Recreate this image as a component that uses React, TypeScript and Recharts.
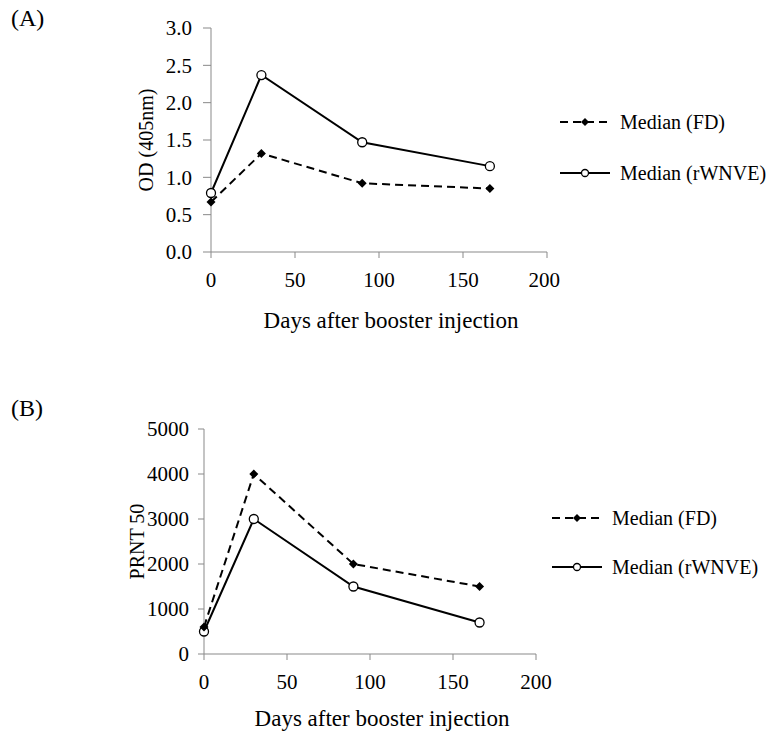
import { Label, Line, LineChart, XAxis, YAxis } from 'recharts'

// days after booster and the medians
const days = [0, 30, 90, 166]
const odFD = [0.67, 1.32, 0.92, 0.85]
const odRW = [0.79, 2.37, 1.47, 1.15]
const prntFD = [600, 4000, 2000, 1500]
const prntRW = [500, 3000, 1500, 700]

const dayTicks = [0, 50, 100, 150, 200]
const odTicks = [0, 0.5, 1, 1.5, 2, 2.5, 3]
const prntTicks = [0, 1000, 2000, 3000, 4000, 5000]

const seriesNames = ['Median (FD)', 'Median (rWNVE)']

const font = '"Liberation Serif", "Times New Roman", serif'
const gray = '#898989'

const odData = days.map((d, i) => ({ day: d, fd: odFD[i], rw: odRW[i] }))
const prntData = days.map((d, i) => ({ day: d, fd: prntFD[i], rw: prntRW[i] }))

function Diamond(props: any) {
  const { cx, cy, index } = props
  if (cx == null || cy == null) return <g key={index} />
  const s = 4.5
  return (
    <path
      key={index}
      d={`M${cx},${cy - s}L${cx + s},${cy}L${cx},${cy + s}L${cx - s},${cy}Z`}
      fill="#000"
    />
  )
}

const circleDot = { r: 4.5, fill: '#fff', stroke: '#000', strokeWidth: 1.3 }

function LegendBox({ left, top, gap }: { left: number; top: number; gap: number }) {
  return (
    <svg
      width={220}
      height={90}
      style={{ position: 'absolute', left, top, overflow: 'visible' }}
    >
      <line x1={0} x2={50} y1={10} y2={10} stroke="#000" strokeWidth={2} strokeDasharray="8 5" />
      <path d="M25,6L29,10L25,14L21,10Z" fill="#000" />
      <text x={60} y={17} fontFamily={font} fontSize={20} fill="#000">
        {seriesNames[0]}
      </text>
      <line x1={0} x2={50} y1={10 + gap} y2={10 + gap} stroke="#000" strokeWidth={2} />
      <circle cx={25} cy={10 + gap} r={3.5} fill="#fff" stroke="#000" strokeWidth={1.3} />
      <text x={60} y={17 + gap} fontFamily={font} fontSize={20} fill="#000">
        {seriesNames[1]}
      </text>
    </svg>
  )
}

const tickStyle = { fill: '#000', fontSize: 21, fontFamily: font }
const titleStyle = { fontSize: 23, fontFamily: font, fill: '#000' }
const yTitleStyle = { fontSize: 20, fontFamily: font, fill: '#000', textAnchor: 'middle' as const }

export default function App() {
  return (
    <div
      style={{
        position: 'absolute',
        left: 0,
        top: 0,
        width: 777,
        height: 746,
        background: '#fff',
        fontFamily: font
      }}
    >
      <div style={{ position: 'absolute', left: 11, top: 5, fontSize: 24 }}>(A)</div>
      <div style={{ position: 'absolute', left: 11, top: 395, fontSize: 24 }}>(B)</div>

      <div style={{ position: 'absolute', left: 0, top: 0 }}>
        <LineChart
          width={560}
          height={340}
          data={odData}
          margin={{ top: 28, right: 13, left: 130, bottom: 0 }}
        >
          <XAxis
            dataKey="day"
            type="number"
            domain={[0, 200]}
            ticks={dayTicks}
            height={88}
            stroke={gray}
            tickSize={6}
            tickMargin={14}
            tick={tickStyle}
          >
            <Label
              value="Days after booster injection"
              position="insideBottom"
              offset={12}
              dx={12}
              style={titleStyle}
            />
          </XAxis>
          <YAxis
            type="number"
            domain={[0, 3]}
            ticks={odTicks}
            width={81}
            stroke={gray}
            tickSize={8}
            tickMargin={11}
            tick={tickStyle}
            tickFormatter={(v: number) => v.toFixed(1)}
          >
            <Label
              value="OD (405nm)"
              angle={-90}
              position="insideLeft"
              offset={16}
              style={yTitleStyle}
            />
          </YAxis>
          <Line
            dataKey="fd"
            stroke="#000"
            strokeWidth={2}
            strokeDasharray="8 5"
            dot={(p: any) => <Diamond {...p} key={p.index} />}
            activeDot={false}
            isAnimationActive={false}
          />
          <Line
            dataKey="rw"
            stroke="#000"
            strokeWidth={2}
            dot={circleDot}
            activeDot={false}
            isAnimationActive={false}
          />
        </LineChart>
      </div>
      <LegendBox left={560} top={112} gap={51} />

      <div style={{ position: 'absolute', left: 0, top: 380 }}>
        <LineChart
          width={560}
          height={366}
          data={prntData}
          margin={{ top: 49, right: 24, left: 124, bottom: 0 }}
        >
          <XAxis
            dataKey="day"
            type="number"
            domain={[0, 200]}
            ticks={dayTicks}
            height={92}
            stroke={gray}
            tickSize={6}
            tickMargin={14}
            tick={tickStyle}
          >
            <Label
              value="Days after booster injection"
              position="insideBottom"
              offset={20}
              dx={12}
              style={titleStyle}
            />
          </XAxis>
          <YAxis
            type="number"
            domain={[0, 5000]}
            ticks={prntTicks}
            width={80}
            stroke={gray}
            tickSize={6}
            tickMargin={9}
            tick={tickStyle}
          >
            <Label
              value="PRNT 50"
              angle={-90}
              position="insideLeft"
              offset={13}
              style={yTitleStyle}
            />
          </YAxis>
          <Line
            dataKey="rw"
            stroke="#000"
            strokeWidth={2}
            dot={circleDot}
            activeDot={false}
            isAnimationActive={false}
          />
          <Line
            dataKey="fd"
            stroke="#000"
            strokeWidth={2}
            strokeDasharray="8 5"
            dot={(p: any) => <Diamond {...p} key={p.index} />}
            activeDot={false}
            isAnimationActive={false}
          />
        </LineChart>
      </div>
      <LegendBox left={552} top={508} gap={49} />
    </div>
  )
}
